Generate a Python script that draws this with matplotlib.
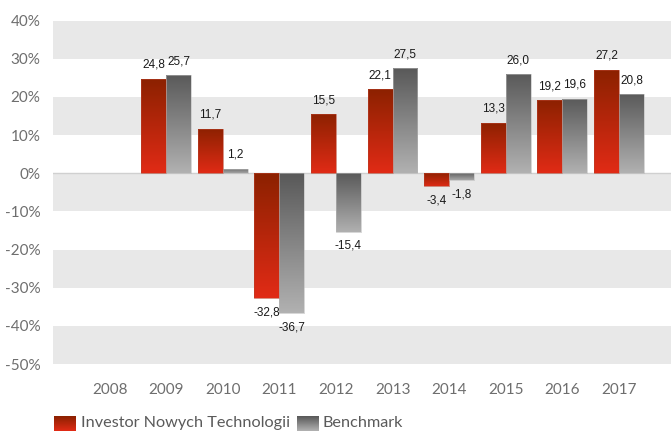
import numpy as np
import matplotlib
matplotlib.use('Agg')
import matplotlib.pyplot as plt
from matplotlib.colors import LinearSegmentedColormap

# dane
years = ['2008', '2009', '2010', '2011', '2012', '2013', '2014', '2015', '2016', '2017']
inwestor = [np.nan, 24.8, 11.7, -32.8, 15.5, 22.1, -3.4, 13.3, 19.2, 27.2]
benchmark = [np.nan, 25.7, 1.2, -36.7, -15.4, 27.5, -1.8, 26.0, 19.6, 20.8]
series_names = ['Investor Nowych Technologii', 'Benchmark']

# gradienty (góra ciemna, dół jasny)
red_cmap = LinearSegmentedColormap.from_list('red', ['#e22b16', '#8a2100'])
gray_cmap = LinearSegmentedColormap.from_list('gray', ['#b2b2b2', '#585858'])
grad = np.linspace(0, 1, 256).reshape(-1, 1)

W, H = 671, 433
fig = plt.figure(figsize=(W / 100, H / 100), dpi=100)
ax = fig.add_axes([53 / W, 1 - 364 / H, 1 - 53 / W, (364 - 20.7) / H])

x = np.arange(len(years))
w = 0.44
ax.set_xlim(-1.0, 9.92)
ax.set_ylim(-50, 40)

# pasy tła
for lo in range(-50, 40, 20):
    ax.axhspan(lo, lo + 10, color='#e8e8e8', lw=0, zorder=0)
ax.axhline(0, color='#d0d0d0', lw=1, zorder=1)


def gradient_bars(xs, vals, cmap, edge):
    bars = ax.bar(xs, vals, w, facecolor='none', edgecolor=edge, lw=0.4, zorder=3)
    for b, v in zip(bars, vals):
        if np.isnan(v):
            continue
        x0 = b.get_x()
        y0, y1 = sorted([0, v])
        img = ax.imshow(grad, extent=(x0 - 0.02, x0 + w + 0.02, y0 - 0.3, y1 + 0.3),
                        origin='lower', cmap=cmap, aspect='auto', zorder=2)
        img.set_clip_path(b)
        off = 10 if v >= 0 else -10
        ax.annotate(f'{v:.1f}'.replace('.', ','), (x0 + w / 2, v),
                    xytext=(0, off), textcoords='offset points',
                    ha='center', va='center', fontsize=8.5,
                    family='Liberation Sans', color='#1a1a1a', zorder=4)
    return bars


gradient_bars(x - w / 2, inwestor, red_cmap, '#b8402a')
gradient_bars(x + w / 2, benchmark, gray_cmap, '#b8b8b8')
ax.set_xlim(-1.0, 9.92)
ax.set_ylim(-50, 40)

ax.set_xticks(x)
ax.set_xticklabels(years)
ax.set_yticks(range(-50, 41, 10))
ax.set_yticklabels([f'{t}%' for t in range(-50, 41, 10)])
ax.tick_params(length=0, labelsize=11, labelcolor='#6e6e6e')
ax.tick_params(axis='x', pad=14)
ax.tick_params(axis='y', pad=9)
for lab in ax.get_xticklabels() + ax.get_yticklabels():
    lab.set_family('Lato')
for s in ax.spines.values():
    s.set_visible(False)

# legenda
def swatch(x0, cmap):
    sax = fig.add_axes([x0 / W, 1 - 431 / H, 22 / W, 15 / H])
    sax.imshow(grad, cmap=cmap, origin='lower', aspect='auto')
    sax.axis('off')


swatch(54, red_cmap)
fig.text(81 / W, 1 - 423 / H, series_names[0], fontsize=11.7, family='Lato',
         color='#5a5a5a', va='center')
swatch(297, gray_cmap)
fig.text(322 / W, 1 - 423 / H, series_names[1], fontsize=11.7, family='Lato',
         color='#5a5a5a', va='center')

fig.savefig('out.png', dpi=100)
